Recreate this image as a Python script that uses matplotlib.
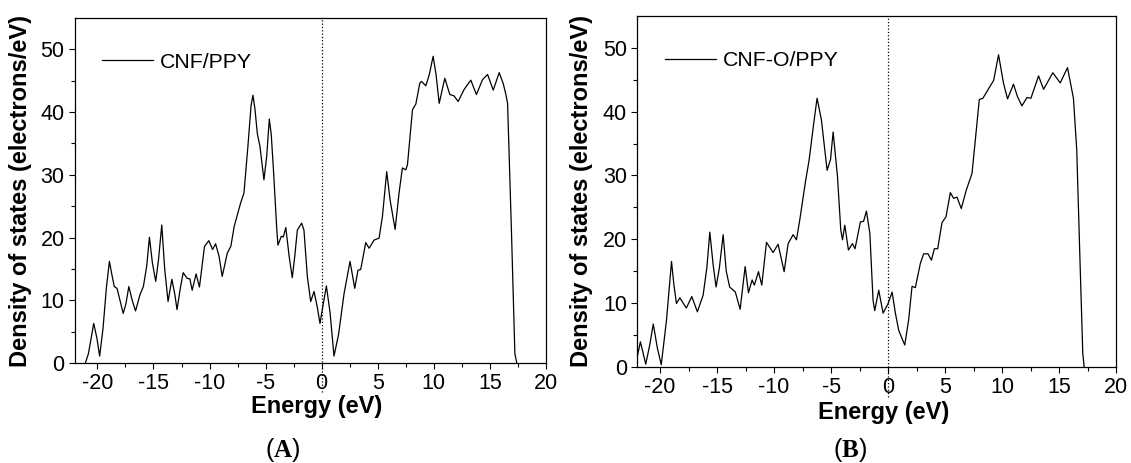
import matplotlib
matplotlib.use("Agg")
import matplotlib.pyplot as plt

plt.rcParams['font.family'] = ['Liberation Sans', 'DejaVu Sans']
plt.rcParams['axes.unicode_minus'] = False
plt.rcParams['mathtext.fontset'] = 'custom'
plt.rcParams['mathtext.rm'] = 'Liberation Serif'
plt.rcParams['mathtext.bf'] = 'Liberation Serif:bold'

# CNF/PPY density of states
energy_a = [-21.07, -20.8, -20.33, -20.05, -19.8, -19.5, -19.2, -18.93, -18.7, -18.5, -18.25,
            -17.7, -17.45, -17.2, -16.9, -16.6, -16.2, -15.9, -15.6, -15.36, -15.1, -14.8,
            -14.55, -14.26, -14.0, -13.7, -13.36, -13.1, -12.9, -12.6, -12.35, -12.0, -11.75,
            -11.55, -11.2, -10.9, -10.45, -10.06, -9.73, -9.46, -9.15, -8.87, -8.42, -8.1,
            -7.8, -7.23, -6.93, -6.58, -6.3, -6.13, -5.95, -5.74, -5.5, -5.15, -4.9, -4.67,
            -4.5, -4.3, -4.0, -3.9, -3.6, -3.42, -3.2, -2.9, -2.62, -2.4, -2.17, -1.79,
            -1.58, -1.28, -0.98, -0.68, -0.4, -0.15, 0.15, 0.42, 0.75, 1.1, 1.5, 2.0, 2.53,
            2.95, 3.24, 3.48, 3.93, 4.23, 4.67, 5.12, 5.42, 5.8, 6.1, 6.55, 6.9, 7.2, 7.5,
            7.65, 8.1, 8.4, 8.75, 8.9, 9.29, 9.6, 9.94, 10.2, 10.48, 10.98, 11.43, 11.8,
            12.17, 12.7, 13.3, 13.8, 14.35, 14.8, 15.3, 15.83, 16.2, 16.43, 16.58, 16.93,
            17.23, 17.4]
dos_a = [0.0, 1.5, 6.3, 4.0, 1.1, 5.5, 12.0, 16.2, 14.0, 12.2, 11.9,
         7.9, 9.5, 12.2, 10.0, 8.3, 10.9, 12.2, 15.5, 20.05, 16.0, 13.0,
         16.5, 22.0, 15.0, 9.8, 13.35, 11.0, 8.5, 12.0, 14.4, 13.5, 13.4,
         11.6, 14.2, 12.1, 18.6, 19.5, 18.1, 19.0, 17.0, 13.8, 17.5, 18.6,
         21.8, 25.5, 27.1, 34.5, 41.0, 42.7, 40.5, 36.6, 34.5, 29.2, 33.0, 38.9,
         36.5, 30.8, 21.2, 18.8, 20.2, 20.1, 21.6, 17.0, 13.6, 17.0, 21.2, 22.3,
         21.2, 13.8, 9.8, 11.4, 9.0, 6.3, 9.5, 12.3, 8.0, 1.1, 4.5, 11.1, 16.2,
         11.9, 14.8, 14.9, 19.2, 18.3, 19.6, 19.9, 23.4, 30.5, 26.0, 21.3, 27.1, 31.1, 30.8,
         31.6, 40.4, 41.3, 44.6, 44.9, 44.2, 46.0, 48.9, 46.0, 41.4, 45.4, 42.8, 42.6,
         41.7, 43.6, 45.1, 42.8, 45.2, 46.0, 43.5, 46.3, 44.5, 42.8, 41.4, 20.7,
         1.5, 0.0]

# CNF-O/PPY density of states
energy_b = [-22.0, -21.73, -21.26, -20.9, -20.6, -20.25, -19.9, -19.44, -19.0, -18.8, -18.57,
            -18.27, -17.7, -17.22, -16.73, -16.23, -15.9, -15.64, -15.35, -15.09, -14.8, -14.47,
            -14.2, -13.9, -13.4, -12.98, -12.54, -12.25, -11.93, -11.73, -11.37, -11.08, -10.67,
            -10.09, -9.65, -9.12, -8.77, -8.33, -8.04, -7.75, -7.25, -6.93, -6.5, -6.23, -5.85,
            -5.35, -5.05, -4.82, -4.44, -4.15, -4.0, -3.8, -3.48, -3.13, -2.9, -2.43, -2.15,
            -1.9, -1.6, -1.32, -1.17, -0.82, -0.44, 0.0, 0.35, 0.64, 0.93, 1.46, 1.8, 2.1,
            2.39, 2.83, 3.12, 3.5, 3.8, 4.06, 4.35, 4.73, 5.08, 5.46, 5.75, 6.04, 6.42, 6.86,
            7.36, 7.65, 8.0, 8.32, 8.82, 9.26, 9.69, 10.13, 10.48, 11.0, 11.36, 11.74, 12.18,
            12.53, 13.2, 13.64, 14.45, 15.1, 15.74, 16.26, 16.55, 16.85, 17.08, 17.2]
dos_b = [1.6, 3.9, 0.4, 3.5, 6.7, 3.0, 0.3, 7.3, 16.5, 13.0, 9.9,
         10.8, 9.2, 11.0, 8.6, 11.2, 15.5, 21.1, 16.0, 12.5, 15.5, 20.7,
         15.0, 12.5, 11.7, 9.0, 15.7, 11.6, 13.6, 12.8, 14.9, 12.8, 19.5,
         17.9, 19.2, 14.9, 19.3, 20.7, 19.9, 23.0, 29.0, 32.4, 38.5, 42.1, 38.7,
         30.8, 32.5, 36.8, 29.8, 21.4, 19.9, 22.2, 18.3, 19.3, 18.5, 22.7, 22.8,
         24.4, 20.9, 10.4, 8.8, 12.0, 8.4, 9.9, 11.7, 8.4, 5.7, 3.4, 7.3, 12.6,
         12.4, 16.2, 17.7, 17.7, 16.7, 18.5, 18.5, 22.6, 23.5, 27.3, 26.4, 26.6, 24.8, 27.7,
         30.3, 35.5, 41.9, 42.1, 43.6, 44.9, 48.9, 44.4, 42.0, 44.3, 42.3, 40.9, 42.2,
         42.1, 45.6, 43.5, 46.1, 44.5, 46.9, 42.1, 34.0, 15.7, 2.1, 0.0]

labels = ['CNF/PPY', 'CNF-O/PPY']
panel_tags = [r'($\mathbf{A}$)', r'($\mathbf{B}$)']

fig = plt.figure(figsize=(11.31, 4.63), dpi=100)
ax_a = fig.add_axes([0.0663, 0.216, 0.4164, 0.745])
ax_b = fig.add_axes([0.5635, 0.208, 0.4233, 0.7575])

panels = [(ax_a, energy_a, dos_a), (ax_b, energy_b, dos_b)]
for i, (ax, e, d) in enumerate(panels):
    ax.plot(e, d, color='black', lw=0.9, label=labels[i])
    ax.axvline(0, ymin=-0.085, ymax=1, color='black', ls=':', lw=0.9, clip_on=False)
    ax.set_xlim(-22, 20)
    ax.set_ylim(0, 55)
    ax.set_xticks([-20, -15, -10, -5, 0, 5, 10, 15, 20])
    ax.set_xticks([-17.5, -12.5, -7.5, -2.5, 2.5, 7.5, 12.5, 17.5], minor=True)
    ax.set_yticks([0, 10, 20, 30, 40, 50])
    ax.set_yticks([5, 15, 25, 35, 45], minor=True)
    ax.tick_params(which='major', direction='out', length=4.5, width=0.8,
                   labelsize=15.5, pad=3)
    ax.tick_params(which='minor', direction='out', length=3, width=0.8)
    for sp in ax.spines.values():
        sp.set_linewidth(0.9)
    ax.set_xlabel('Energy (eV)', fontsize=17, fontweight='bold')
    ax.set_ylabel('Density of states (electrons/eV)', fontsize=17, fontweight='bold')
    ax.legend(loc='upper left', bbox_to_anchor=(0.058, 0.90), frameon=False,
              fontsize=15.3, handlelength=2.4, handletextpad=0.3,
              borderpad=0, borderaxespad=0)

ax_a.xaxis.set_label_coords(0.514, -0.093)
ax_b.xaxis.set_label_coords(0.514, -0.098)
ax_a.yaxis.set_label_coords(-0.091, 0.5)
ax_b.yaxis.set_label_coords(-0.092, 0.5)

fig.text(283 / 1131, 1 - 450 / 463, panel_tags[0], ha='center', va='center', fontsize=18)
fig.text(850 / 1131, 1 - 450 / 463, panel_tags[1], ha='center', va='center', fontsize=18)

fig.savefig('out.png', dpi=100)
